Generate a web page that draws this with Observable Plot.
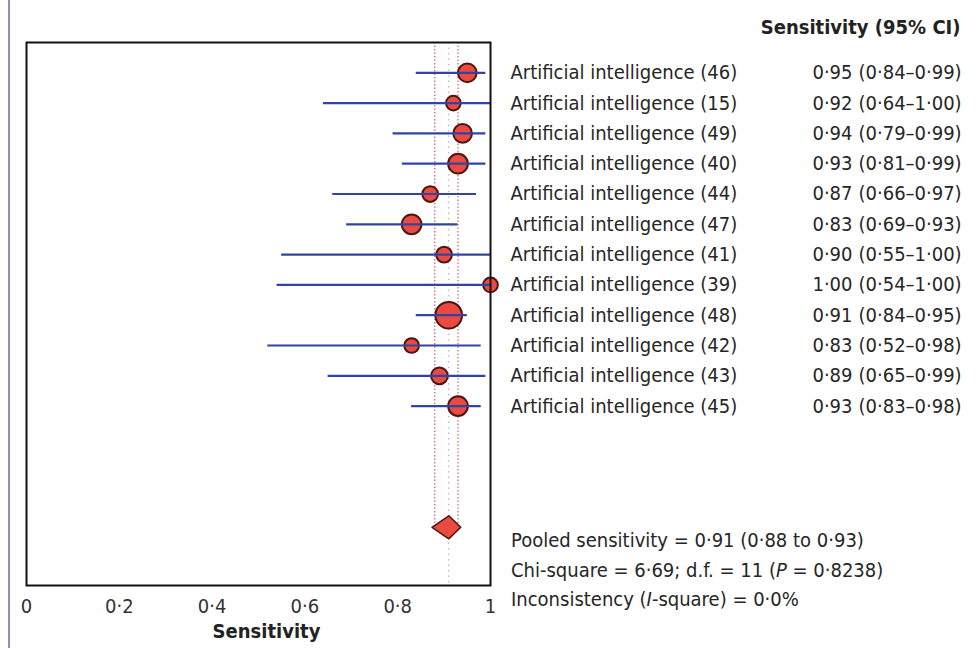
<!DOCTYPE html>
<html><head><meta charset="utf-8">
<script src="https://cdn.jsdelivr.net/npm/d3@7"></script>
<script src="https://cdn.jsdelivr.net/npm/@observablehq/plot@0.6"></script>
<style>
body{margin:0;background:#fff;}
#wrap{position:relative;width:976px;height:648px;overflow:hidden;font-family:'Liberation Sans Narrow','Arial Narrow','DejaVu Sans Condensed',sans-serif;font-stretch:condensed;}
#wrap svg{position:absolute;left:0;top:0;}
#border{position:absolute;left:8px;top:0;width:2px;height:648px;background:#8e93a8;}
.stats{position:absolute;left:511px;font-size:20px;color:#262626;white-space:nowrap;line-height:1;}
</style></head>
<body>
<div id="wrap"><div id="border"></div></div>
<script>
const studies = [
  "Artificial intelligence (46)", "Artificial intelligence (15)", "Artificial intelligence (49)",
  "Artificial intelligence (40)", "Artificial intelligence (44)", "Artificial intelligence (47)",
  "Artificial intelligence (41)", "Artificial intelligence (39)", "Artificial intelligence (48)",
  "Artificial intelligence (42)", "Artificial intelligence (43)", "Artificial intelligence (45)"
];
const sensitivity = [0.95, 0.92, 0.94, 0.93, 0.87, 0.83, 0.90, 1.00, 0.91, 0.83, 0.89, 0.93];
const lowerCI     = [0.84, 0.64, 0.79, 0.81, 0.66, 0.69, 0.55, 0.54, 0.84, 0.52, 0.65, 0.83];
const upperCI     = [0.99, 1.00, 0.99, 0.99, 0.97, 0.93, 1.00, 1.00, 0.95, 0.98, 0.99, 0.98];
const weightPct   = [8.7, 5.4, 8.7, 9.7, 6.2, 9.7, 6.2, 5.4, 17.7, 5.4, 7.0, 9.7];
const pooledEst = 0.91, pooledLo = 0.88, pooledHi = 0.93;
const xTicks = [0, 0.2, 0.4, 0.6, 0.8, 1];
const header = "Sensitivity (95% CI)";
const xLabel = "Sensitivity";
const statLines = [
  "Pooled sensitivity = 0·91 (0·88 to 0·93)",
  "Chi-square = 6·69; d.f. = 11 (<i>P</i> = 0·8238)",
  "Inconsistency (<i>I</i>-square) = 0·0%"
];

const FONT = "'Liberation Sans Narrow','Arial Narrow','DejaVu Sans Condensed',sans-serif";
const fmt = v => v.toFixed(2).replace(".", "·");
const tickFmt = v => v === 0 ? "0" : v === 1 ? "1" : v.toFixed(1).replace(".", "·");

const rows = studies.map((s, i) => ({
  label: s, row: i, est: sensitivity[i], lo: lowerCI[i], hi: upperCI[i], w: weightPct[i],
  val: fmt(sensitivity[i]), ci: `(${fmt(lowerCI[i])}–${fmt(upperCI[i])})`
}));
const pooledRow = 15;
const dh = 0.38;
const diamond = [
  {x: pooledLo - 0.006, y: pooledRow}, {x: pooledEst, y: pooledRow - dh},
  {x: pooledHi + 0.006, y: pooledRow}, {x: pooledEst, y: pooledRow + dh}
];

const chart = Plot.plot({
  width: 976, height: 648,
  marginLeft: 26, marginRight: 486, marginTop: 42, marginBottom: 63,
  style: {fontFamily: FONT, fontStretch: "condensed", background: "transparent", overflow: "visible"},
  x: {domain: [0, 1]},
  y: {domain: [-1, 16.92], reverse: true, axis: null},
  r: {type: "sqrt", domain: [0, 17.7], range: [0, 13.3]},
  marks: [
    Plot.ruleX([pooledEst], {y1: -1, y2: 16.92, stroke: "#aaa", strokeWidth: 1, strokeDasharray: "1.5,4"}),
    Plot.ruleX([pooledLo, pooledHi], {y1: -1, y2: pooledRow, stroke: "#c9413a", strokeWidth: 1, strokeDasharray: "1.5,2"}),
    Plot.dot(rows, {x: "est", y: "row", r: "w", fill: "#ea4a3f", stroke: "#4a1714", strokeWidth: 2}),
    Plot.ruleY(rows, {y: "row", x1: "lo", x2: "hi", stroke: "#3144a3", strokeWidth: 2.2}),
    Plot.line(diamond, {x: "x", y: "y", curve: "linear-closed", fill: "#ea4a3f", stroke: "#4a1714", strokeWidth: 1.5}),
    Plot.frame({stroke: "#111", strokeWidth: 2}),
    Plot.axisX(xTicks, {tickFormat: tickFmt, tickSize: 0, tickPadding: 13, fontSize: 20, fill: "#333", label: null}),
    Plot.text([xLabel], {frameAnchor: "bottom", dy: 52, dx: 8, fontSize: 20, fontWeight: "bold", fill: "#222"}),
    Plot.text(rows, {x: () => 1, y: "row", text: "label", dx: 20, textAnchor: "start", fontSize: 20, fill: "#262626"}),
    Plot.text(rows, {x: () => 1, y: "row", text: "val", dx: 362, textAnchor: "end", fontSize: 20, fill: "#262626"}),
    Plot.text(rows, {x: () => 1, y: "row", text: "ci", dx: 368, textAnchor: "start", fontSize: 20, fill: "#262626"}),
    Plot.text([header], {x: () => 1, y: () => -1, dx: 470, dy: -15, textAnchor: "end", fontSize: 20, fontWeight: "bold", fill: "#222"})
  ]
});
const wrap = document.getElementById("wrap");
wrap.appendChild(chart);
const tops = [530, 560, 589];
statLines.forEach((t, i) => {
  const d = document.createElement("div");
  d.className = "stats";
  d.style.top = tops[i] + "px";
  d.innerHTML = t;
  wrap.appendChild(d);
});
</script>
</body></html>
